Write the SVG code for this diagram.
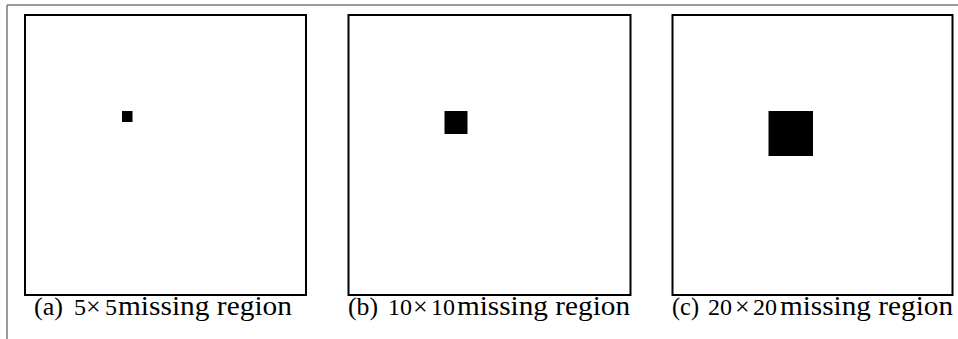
<svg xmlns="http://www.w3.org/2000/svg" width="958" height="339" viewBox="0 0 958 339">
<style>
.frame{stroke:#7a7a7a;stroke-width:1.5;fill:none}
.box{fill:#fff;stroke:#000;stroke-width:2}
.hole{fill:#000}
</style>
<rect width="958" height="339" fill="#fff"/>
<g id="frame">
<line class="frame" x1="7" y1="5" x2="958" y2="5"/>
<line class="frame" x1="7" y1="5" x2="7" y2="339"/>
</g>
<g id="panel-a">
<rect class="box" x="25" y="15" width="281" height="280"/>
<rect class="hole" x="122" y="111" width="10.5" height="11"/>
<text font-family="Liberation Serif, serif" font-size="25" y="315"><tspan x="34" textLength="29" lengthAdjust="spacingAndGlyphs">(a)</tspan><tspan x="74" font-size="24">5</tspan><tspan x="86" font-size="26">×</tspan><tspan x="105" font-size="24">5</tspan><tspan x="118" font-size="27" textLength="174" lengthAdjust="spacingAndGlyphs">missing region</tspan></text>
</g>
<g id="panel-b">
<rect class="box" x="348.5" y="15" width="282" height="280"/>
<rect class="hole" x="444.5" y="111" width="23" height="23"/>
<text font-family="Liberation Serif, serif" font-size="25" y="315"><tspan x="348" textLength="30" lengthAdjust="spacingAndGlyphs">(b)</tspan><tspan x="388" font-size="24">10</tspan><tspan x="413" font-size="26">×</tspan><tspan x="431" font-size="24">10</tspan><tspan x="457" font-size="27" textLength="173" lengthAdjust="spacingAndGlyphs">missing region</tspan></text>
</g>
<g id="panel-c">
<rect class="box" x="672.5" y="15" width="280" height="280"/>
<rect class="hole" x="768.5" y="111" width="44.5" height="45"/>
<text font-family="Liberation Serif, serif" font-size="25" y="315"><tspan x="672" textLength="27" lengthAdjust="spacingAndGlyphs">(c)</tspan><tspan x="708" font-size="24">20</tspan><tspan x="735" font-size="26">×</tspan><tspan x="753" font-size="24">20</tspan><tspan x="780" font-size="27" textLength="173" lengthAdjust="spacingAndGlyphs">missing region</tspan></text>
</g>
</svg>
